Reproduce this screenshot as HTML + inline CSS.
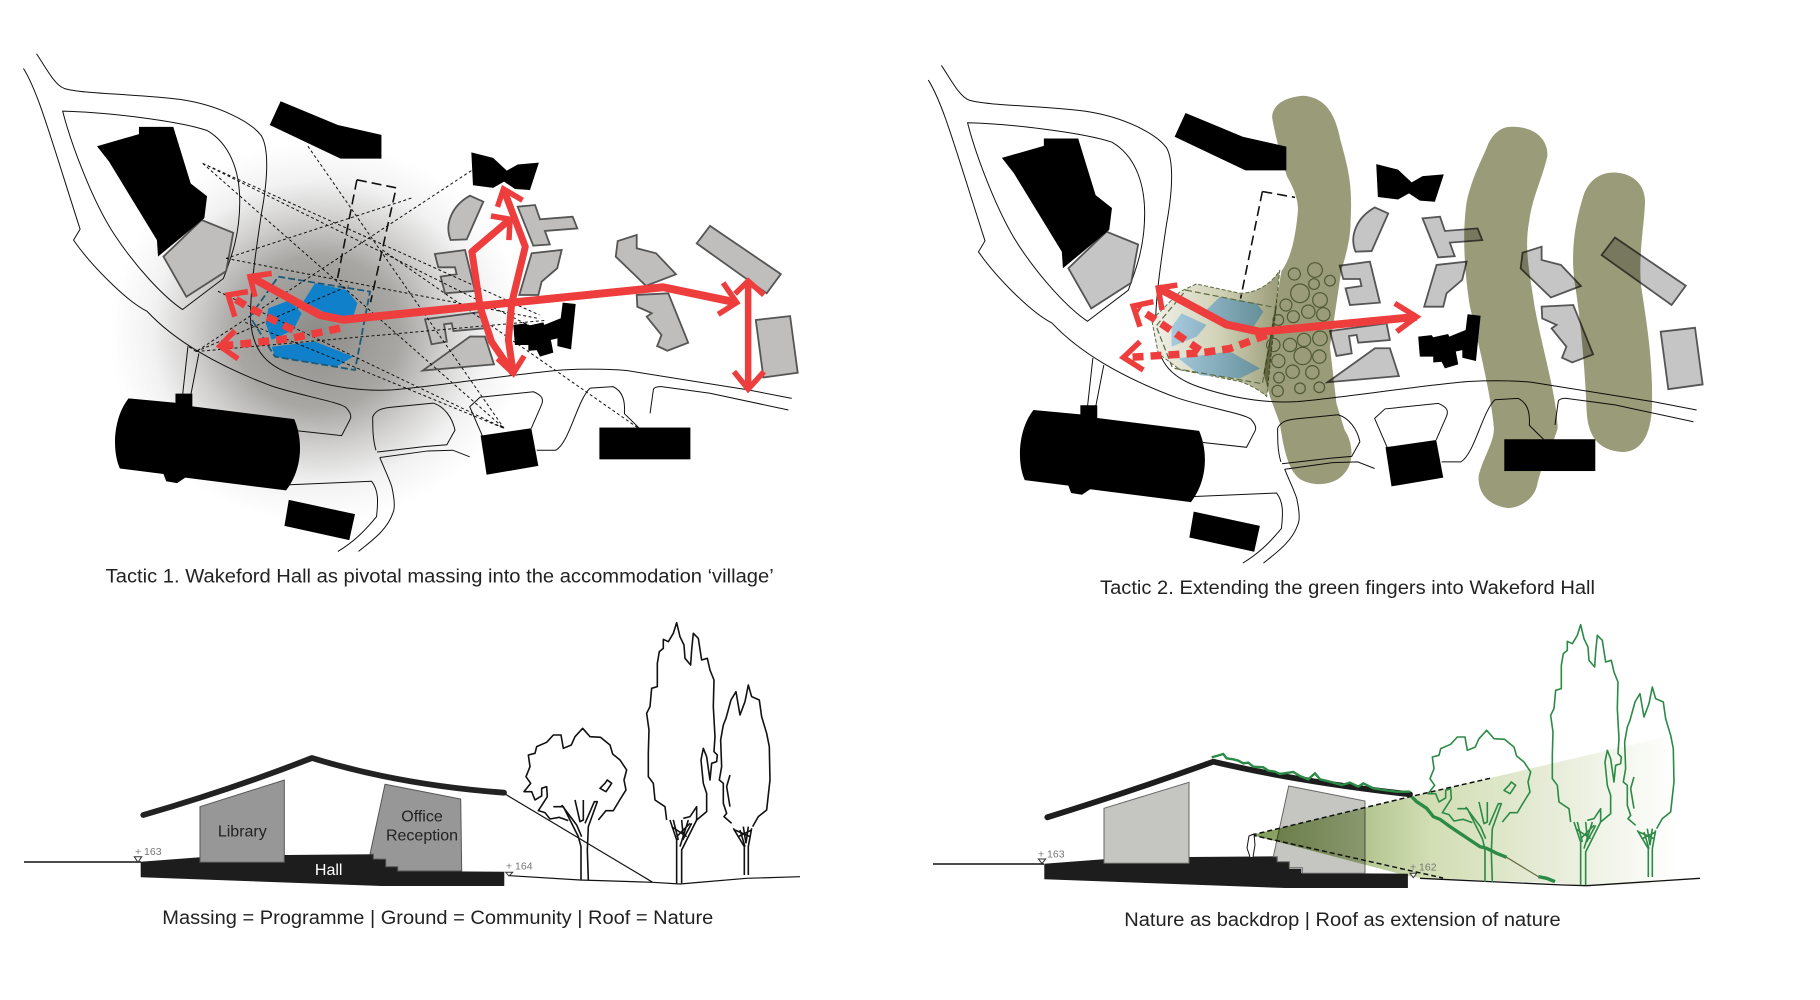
<!DOCTYPE html>
<html><head><meta charset="utf-8">
<style>
html,body{margin:0;padding:0;background:#fff;width:1820px;height:1000px;overflow:hidden}
svg{display:block}
svg *{vector-effect:non-scaling-stroke}
text{font-family:"Liberation Sans",sans-serif;fill:#222;vector-effect:none}
.red{fill:none;stroke:#ee3d3d;stroke-width:8;stroke-linejoin:round}
.rs{fill:none;stroke:#ee3d3d;stroke-width:5.5}
.rd{fill:none;stroke:#ee3d3d;stroke-width:7.5;stroke-dasharray:11 7}
.thin{fill:none;stroke:#111;stroke-width:1;stroke-dasharray:3 2.5}
.tc{fill:none;stroke:#4f5a34;stroke-width:1.2}
</style></head><body>
<svg width="1820" height="1000" viewBox="0 0 1820 1000" xmlns="http://www.w3.org/2000/svg">
<defs>
<radialGradient id="haze" cx="50%" cy="50%" r="50%">
<stop offset="0" stop-color="#8e8c89"/><stop offset=".4" stop-color="#a9a7a4"/><stop offset=".6" stop-color="#d0cfce"/><stop offset=".8" stop-color="#f2f2f2"/><stop offset="1" stop-color="#fff"/>
</radialGradient>
<linearGradient id="plaza" x1="0" x2="1" y1="0" y2="0"><stop offset="0" stop-color="#f1f1ea"/><stop offset=".55" stop-color="#cfd0b4"/><stop offset="1" stop-color="#9a9b78"/></linearGradient>
<linearGradient id="bl" gradientUnits="userSpaceOnUse" x1="490" x2="680" y1="0" y2="0"><stop offset="0" stop-color="#a9cde2"/><stop offset="1" stop-color="#5f8a92"/></linearGradient>
<linearGradient id="cone" gradientUnits="userSpaceOnUse" x1="1252" x2="1678" y1="0" y2="0"><stop offset="0" stop-color="#7f9a55"/><stop offset=".42" stop-color="#d2deb4"/><stop offset=".72" stop-color="#e8edda"/><stop offset="1" stop-color="#fff"/></linearGradient>
<g id="roads" fill="none" stroke="#111" stroke-width="1">
<path d="M67 65C85 105 100 150 118 160C150 175 250 175 330 190C400 205 460 250 480 290C495 330 490 420 480 500C470 600 458 720 460 800C465 880 490 920 540 945C600 975 660 990 720 985C800 975 950 940 1034 930C1090 926 1120 928 1150 932L1373 985L1453 1008"/>
<path d="M43 105C70 170 90 280 147 545L135 575C165 640 230 740 270 770C320 850 400 920 500 975C550 1000 630 1020 636 1035C645 1050 645 1060 642 1067L627 1110L547 1097"/>
<path d="M115 222C200 225 330 250 380 275C420 310 440 380 440 470C440 560 425 620 410 680L335 765C300 730 250 650 210 560C170 470 130 310 115 222Z"/>
<path d="M1447 1040L1303 994L1214 976C1205 975 1199 980 1199 985L1193 1049"/>
<path d="M985 1150L1020 1150C1045 1130 1060 1010 1083 980L1125 976C1145 990 1147 1020 1146 1050L1172 1088"/>
<path d="M885 1110L862 1031L881 1005L979 990C995 1000 998 1010 994 1025L975 1090"/>
<path d="M690 1150C684 1120 684 1090 684 1058C690 1040 700 1035 720 1032L795 1021C815 1030 830 1060 835 1095L820 1135L780 1140L692 1155M697 1170L785 1152L831 1150L862 1168"/>
<path d="M697 1170C705 1200 715 1230 719 1250C725 1290 725 1310 721 1322C710 1370 680 1400 658 1427M526 1245L682 1235C695 1260 694 1290 691 1332C670 1370 650 1400 620 1427"/>
<path d="M345 865L335 1000M365 885L350 1000"/>
</g>
<g id="gry" stroke="#555" stroke-width="1.8">
<polygon points="370,520 428,555 415,660 342,730 300,620"/>
<path d="M862.5 453.5L887 470L856.5 573L827 574.7C815 530 830 480 862.5 453.5Z"/>
<polygon points="950,483.5 982,479 991,518 1051,511 1059.5,543 1000,550 1009,587 978.7,590.3"/>
<polygon points="798,613 853.4,602 871.7,714 816.7,720.6 808.7,675 838,668.6 835,649.4 804.4,649.4"/>
<polygon points="975.7,611 1030.8,602 1022.7,652 994,688.7 988,725.2 953,725.2"/>
<polygon points="780,791.8 884,771 890,816.4 832,823.7 829,802.7 815,805.4 820,853 792,860"/>
<polygon points="775.7,932 862.6,839 890,839 906.6,915"/>
<polygon points="1168.5,561 1133.6,577.5 1130,620.4 1185.5,700 1240.6,668.6 1204,611 1168.5,597.4"/>
<polygon points="1168.5,725 1226.5,720.6 1263,855.8 1224.7,877.7 1206,864.8 1214,834.7 1186.8,784.6 1196,775 1169.6,757.3"/>
<polygon points="1303,536 1433,668 1407,720.6 1278.6,584"/>
<polygon points="1387,793.6 1450,783 1464,938 1401,951"/>
</g>
<g id="blk" fill="#000">
<polygon points="178,318 255,285 255,265 318,265 350,420 380,455 375,515 290,620 288,575 200,360"/>
<path d="M515 195L495 260L625 352L700 352L700 287L620 260Z"/>
<polygon points="865,335 905,350 930,385 950,368 989,363 972.6,438 945,435 925,415 905,432 868,425"/>
<polygon points="942,807 966.5,803 969.6,809 997,800 999,807 1029,789 1032.6,746 1056.5,750 1048,874 1023,865 1023,844 1011,848 1015.5,883 991,894 985,876 969.6,878 969.6,862 945,862"/>
<path d="M236 1008L322 1020L322 995L353 995L353 1030L540 1065C556 1120 556 1200 525 1260L340 1225L325 1240L305 1235L300 1215L220 1200C205 1150 208 1060 236 1008Z"/>
<polygon points="882,1110 975,1090 988,1193 893,1217"/>
<rect x="1100" y="1088" width="167" height="87"/>
<polygon points="530,1286 651.5,1325 641,1396 522,1357"/>
</g>
<g id="hall">
<path d="M140.7 861.7L200 857.3L285 855L373.3 854.3L373.3 859L385.7 859.3L385.7 866.7L397.7 866.7L397.7 871L504.3 871.7L504.3 886L381.7 886L140.7 877.3Z" fill="#1d1d1d"/>
</g>
<g id="trees" fill="none" stroke-width="1.6" stroke-linejoin="round">
<path d="M295 600L318 572L340 572L358 542L378 510L372 480L380 450L360 420L338 402L330 375L302 352L270 350L248 325L225 350L214 375L190 385L183 345L160 345L140 367L110 380L105 400L85 405L90 440L78 470L92 490L72 515L95 515L105 540L125 528L125 505L140 500L142 530L115 572L135 578L150 597L178 592L205 602"/>
<path d="M300 505L315 490L322 480L335 490L325 505L318 515Z"/>
<path d="M243 780L243 680L235 650L190 560L160 560M265 780L262 690L265 620L292 545L283 545L255 610M225 540L240 605L250 600L250 540M185 555L230 615L245 650"/>
<path d="M500 600L495 560L465 540L460 490L445 470L445 400L447 330L440 280L450 260L455 205L472 200L472 130L478 95L490 85L490 58L505 65L520 40L530 8L540 50L552 75L555 115L572 135L575 90L580 40L595 55L605 120L622 115L630 150L642 180L640 260L645 350L642 395L652 405L650 425L635 430L630 480L620 410L610 385L603 420L610 490L620 520L620 575L590 600L590 560L570 590L550 595"/>
<path d="M530 790L530 660L510 600M545 790L545 690L590 600M535 660L520 600M540 680L565 600M548 660L575 610M515 620L560 650M570 610L530 650M545 600L550 650"/>
<path d="M695 610L672 590L680 580L670 550L670 490L658 480L665 440L662 360L670 315L678 295L693 240L708 215L720 285L735 245L745 195L755 230L778 240L785 290L800 340L808 380L810 480L800 570L775 590L758 620"/>
<path d="M690 465L680 500L690 560"/>
<path d="M733 765L733 680L700 625M745 765L745 680L755 625M720 630L735 680M730 620L738 670M745 620L738 670M705 630L750 650M755 630L715 650"/>
</g>
</defs>

<ellipse cx="318" cy="332" rx="208" ry="190" fill="url(#haze)"/>

<!-- MAP 1 -->
<g transform="translate(0 30) scale(.5449 .3654)">
<use href="#roads"/>
<use href="#gry" fill="#bfbebd"/>
<g fill="#0f80c9">
<polygon points="578,693 636,711.5 656,747.5 648,784.5 605.6,780 556.7,743.5"/>
<polygon points="492.5,761.8 532.3,738.9 553.6,775.4 538.3,821 498.6,848 487.5,802.8"/>
<polygon points="498.6,866.8 578,853 648,894 617.7,921.6 504.7,894"/>
</g>
<polygon points="510.7,675 679,716 651.5,930.5 504.7,894 458.8,784.5" fill="none" stroke="#1c5a78" stroke-width="1.8" stroke-dasharray="7 3"/>
<path d="M655 410L727 432L680 745M655 410L618 690" fill="none" stroke="#111" stroke-width="1.6" stroke-dasharray="10 5"/>
<g class="thin">
<path d="M372 365L990 780M372 365L925 1090M372 365L1000 830M565 318L925 1090M1170 1088L700 600M415 625L990 790"/>
<path d="M865 385L360 880M755 460L415 625M360 880L1000 795M360 880L640 700M400 715L925 1090M360 880L345 865M450 800L925 1090"/>
</g>
<use href="#blk"/>
<path class="red" d="M1352 746L1217 704L630 793L587 780L458.8 675"/>
<path class="rs" d="M498.6 666L458.8 675L468 730"/>
<path class="rs" d="M1327 692L1352 746L1318 778"/>
<path class="red" style="stroke-width:6.5" d="M1373 687L1373 983"/>
<path class="rs" d="M1349 722L1373 687L1402 725M1347 935L1373 983L1402 935"/>
<path class="red" style="stroke-width:7" d="M936 518L866 607L881 757L902 853L942 940"/>
<path class="red" style="stroke-width:7" d="M924 435L964 593L939 748L933 848L942 940"/>
<path class="rs" d="M913 484L924 435L959 466M901 509L936 518L934 575M913 899L942 940L962 892"/>
<path class="rd" d="M624 816L538 843L458.8 857L410 864"/>
<path class="rd" d="M538 821L458.8 761L425 730"/>
<path class="rs" d="M455 716L418.6 725L431 784.5M431 823L403.7 865L437 900"/>
</g>

<!-- MAP 2 -->
<g transform="translate(900 30) scale(.5449 .3654)">
<g transform="translate(9 32)"><use href="#roads"/><use href="#gry" fill="#c5c5c5"/></g>
<path d="M462 793.6L514 716L544 695L624 720.6C650 720 680 700 697 657L673 1003C660 985 640 970 624 962L514 930L474 885Z" fill="url(#plaza)" stroke="#5d6b3f" stroke-width="1" stroke-dasharray="4 2"/>
<g fill="url(#bl)">
<polygon points="587,730 654,748 666.9,771 648.7,812 599.6,798 562.7,766"/>
<polygon points="516.9,775.6 562.7,807.5 544.5,839.3 498.5,866.8 498.5,812"/>
<polygon points="510.8,898.6 605.6,880 660.7,926 624,953.5 550.6,944.5"/>
</g>
<polygon points="525,712 690,760 665,968 500,925 470,810" fill="none" stroke="#5d6b3f" stroke-width="1.2" stroke-dasharray="6 3"/>
<path d="M665 442L725 458M665 442L625 735" fill="none" stroke="#111" stroke-width="1.6" stroke-dasharray="10 5"/>
<g style="mix-blend-mode:multiply" fill="#9a9b78">
<path d="M740 180C700 185 683 210 683 240C690 300 700 350 710 400C725 440 732 470 730 500C725 580 715 630 700 660L667 940L679 1004L697 1076C705 1160 715 1210 735 1230C760 1250 800 1250 820 1205C835 1170 828 1120 816 1095L801 1022L789 867L810 657C822 600 827 560 827 520C830 430 825 390 808 300C800 240 785 185 740 180Z"/>
<path d="M1120 265C1165 262 1190 300 1188 345C1180 400 1160 460 1155 520C1145 600 1155 660 1165 760C1180 880 1205 1000 1207 1090C1195 1150 1180 1180 1170 1240C1165 1290 1130 1310 1115 1308C1075 1300 1060 1260 1062 1220C1070 1170 1090 1130 1090 1090C1085 1000 1060 850 1045 750C1035 650 1032 550 1040 470C1050 400 1070 350 1080 310C1090 280 1105 265 1120 265Z"/>
<path d="M1310 390C1350 392 1370 430 1367 480C1365 540 1355 620 1360 700C1370 800 1382 900 1380 1030C1378 1110 1360 1155 1325 1155C1280 1150 1262 1110 1260 1040C1258 950 1250 800 1238 690C1230 600 1240 520 1255 450C1265 410 1285 390 1310 390Z"/>
</g>
<g transform="translate(9 32)"><use href="#blk"/></g>
</g>
<g transform="translate(1100 270) scale(.3333)" class="tc">
<circle cx="583" cy="12" r="18"/><circle cx="645" cy="0" r="22"/><circle cx="600" cy="70" r="28"/><circle cx="642" cy="42" r="16"/><circle cx="690" cy="32" r="16"/><circle cx="660" cy="90" r="22"/><circle cx="558" cy="105" r="18"/><circle cx="625" cy="125" r="20"/><circle cx="670" cy="133" r="20"/><circle cx="580" cy="140" r="18"/><circle cx="535" cy="150" r="16"/>
<circle cx="520" cy="225" r="20"/><circle cx="570" cy="225" r="20"/><circle cx="612" cy="210" r="20"/><circle cx="660" cy="205" r="22"/><circle cx="535" cy="273" r="20"/><circle cx="608" cy="258" r="26"/><circle cx="658" cy="260" r="20"/><circle cx="578" cy="305" r="20"/><circle cx="637" cy="307" r="20"/><circle cx="537" cy="323" r="16"/><circle cx="533" cy="363" r="17"/><circle cx="600" cy="355" r="16"/><circle cx="658" cy="352" r="16"/>
</g>
<g transform="translate(900 30) scale(.5449 .3654)">
<path class="red" d="M948 785L660.7 826L599 806L474 706"/>
<path class="rs" d="M509 698L474 706L480.8 766M908 748L948 785L911.6 825.6"/>
<path class="rd" d="M673 835L605 872L550.6 884L420 896"/>
<path class="rd" d="M550.6 876L465 789L436 762"/>
<path class="rs" d="M465 743.5L428 755.6L440.4 812M440.4 853L410 896L446.5 930.5"/>
</g>

<!-- SECTION 1 -->
<path d="M24 862L141 862" stroke="#111" stroke-width="1.5" fill="none"/>
<use href="#hall"/>
<polygon points="200,806.7 284.3,780 284.3,862.3 200,862.3" fill="#979797" stroke="#555" stroke-width="1"/>
<polygon points="385,784.3 460.7,799 461.7,871 397.7,871 397.7,866.7 385.7,866.7 385.7,859.3 373.3,859 373.3,854.3 370,854.3" fill="#979797" stroke="#555" stroke-width="1"/>
<path d="M143.3 815Q230 790 312 758Q400 785 504 792.7" fill="none" stroke="#222" stroke-width="5.8" stroke-linecap="round" stroke-linejoin="round"/>
<path d="M505 794L652.7 882.3M510 875.7L580 880L652.7 882.3L680 884L703 882L746.7 878.3L800 876.7" fill="none" stroke="#111" stroke-width="1.2"/>
<path d="M134.3 856.7L141.7 856.7L138 862.3Z M505.7 872.3L512.7 872.3L509 876Z" fill="#fff" stroke="#333" stroke-width="1"/>
<g transform="translate(500 620) scale(.3333)"><use href="#trees" stroke="#111"/></g>

<!-- SECTION 2 -->
<path d="M933 864L1044 864" stroke="#111" stroke-width="1.5" fill="none"/>
<g transform="translate(903.6 2)"><use href="#hall"/></g>
<polygon points="1104,808.3 1189,782.3 1189,863.3 1104,863.3" fill="#c5c5c1" stroke="#666" stroke-width="1"/>
<polygon points="1288.7,786 1365,801 1365,873.3 1302.3,873.3 1302.3,867.7 1289.3,867.7 1289.3,861.7 1277.3,861.7 1277.3,856.7 1273.3,856.7" fill="#c5c5c1" stroke="#666" stroke-width="1"/>
<polygon points="1251.7,835 1410,796.7 1666.7,736.7 1678,884 1586,885.7 1555,883 1420,878 1408,876" fill="url(#cone)" style="mix-blend-mode:multiply"/>
<path d="M1251.7 835L1410 796.7L1490 778.3M1251.7 835L1443 878" fill="none" stroke="#111" stroke-width="1.5" stroke-dasharray="5 3"/>
<path d="M1047.3 817.3Q1135 790 1213.3 761.7Q1300 782 1410 794.3" fill="none" stroke="#1d1d1d" stroke-width="5.8" stroke-linecap="round" stroke-linejoin="round"/>
<path d="M1250 857L1247 848L1249 836L1254 834L1255 845L1253 857" fill="#fff" stroke="#111" stroke-width="1"/>
<g transform="translate(1030 740) scale(.3333)" fill="none" stroke="#2b8a45" stroke-width="2.4">
<path d="M545 52L560 48L580 42L590 55L610 58L625 62L640 70L655 68L670 80L700 82L715 92L735 95L750 102L790 96L810 108L835 118L855 100L870 118L900 125L935 135L960 128L985 140L1000 130L1030 145L1060 150L1100 155L1140 155"/>
</g>
<g transform="translate(1350 620) scale(.3333)" fill="none" stroke="#2b8a45" stroke-width="3.4">
<path d="M185 530L200 545L230 565L250 590L270 598L300 620L330 640L360 660L390 680L410 685L440 700L470 712"/>
<path d="M470 712L565 770" stroke="#6b6b45" stroke-width="1.2"/>
<path d="M565 770L590 775L615 785"/>
</g>
<path d="M1420 878.3L1563 885L1586.7 885.7L1700 878.3" fill="none" stroke="#111" stroke-width="1.3"/>
<path d="M1038.3 859L1045.7 859L1042 863.3Z M1410 873.3L1416.7 873.3L1413.3 877.7Z" fill="#fff" stroke="#333" stroke-width="1"/>
<g transform="translate(1404 622) scale(.3333)"><use href="#trees" stroke="#2b8a45"/></g>

<text x="105.7" y="582.3" font-size="19.6" textLength="668" lengthAdjust="spacingAndGlyphs">Tactic 1. Wakeford Hall as pivotal massing into the accommodation ‘village’</text>
<text x="1100" y="594" font-size="19.6" textLength="495" lengthAdjust="spacingAndGlyphs">Tactic 2. Extending the green fingers into Wakeford Hall</text>
<text x="162.3" y="924" font-size="19.6" textLength="551" lengthAdjust="spacingAndGlyphs">Massing = Programme | Ground = Community | Roof = Nature</text>
<text x="1124.3" y="926" font-size="19.6" textLength="436.4" lengthAdjust="spacingAndGlyphs">Nature as backdrop | Roof as extension of nature</text>
<text x="242.3" y="836.7" font-size="16" text-anchor="middle">Library</text>
<text x="422" y="821.7" font-size="16" text-anchor="middle">Office</text>
<text x="422" y="840.7" font-size="16" text-anchor="middle">Reception</text>
<text x="328.7" y="875" font-size="16" text-anchor="middle" style="fill:#fff">Hall</text>
<text x="135" y="855" font-size="10.5" style="fill:#777">+ 163</text>
<text x="506" y="869.3" font-size="10.5" style="fill:#777">+ 164</text>
<text x="1038" y="857.3" font-size="10.5" style="fill:#777">+ 163</text>
<text x="1410" y="870.7" font-size="10.5" style="fill:#777">+ 162</text>
</svg>
</body></html>
